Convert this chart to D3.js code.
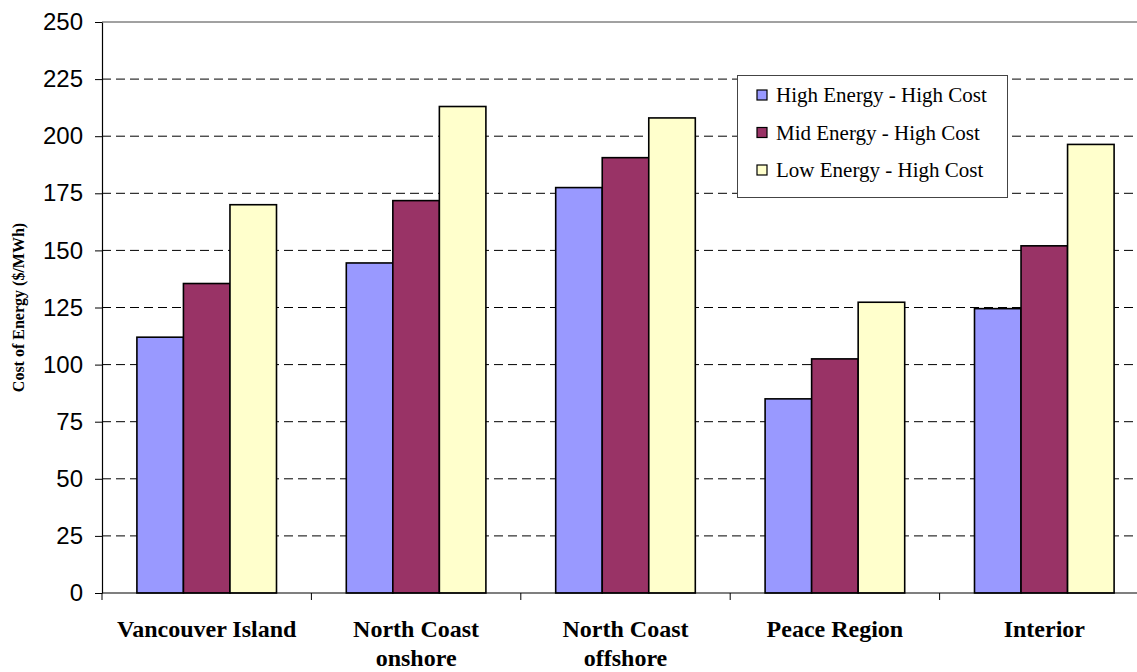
<!DOCTYPE html>
<html><head><meta charset="utf-8">
<script src="https://cdn.jsdelivr.net/npm/d3@7"></script>
<style>html,body{margin:0;padding:0;background:#fff;overflow:hidden}</style>
</head><body>
<script>
const categories = [["Vancouver Island"],["North Coast","onshore"],["North Coast","offshore"],["Peace Region"],["Interior"]];
const seriesNames = ["High Energy - High Cost","Mid Energy - High Cost","Low Energy - High Cost"];
const highEnergy = [112, 144.5, 177.5, 85, 124.5];
const midEnergy = [135.5, 171.8, 190.6, 102.5, 152];
const lowEnergy = [170, 213, 208, 127.3, 196.4];
const yTicks = [0,25,50,75,100,125,150,175,200,225,250];
const colors = ["#9999FF","#993366","#FFFFCC"];

(function(){
const W = 1137, H = 672;
const svg = d3.select("body").append("svg").attr("width", W).attr("height", H);
const pLeft = 102, pRight = 1149, pTop = 22, pBottom = 593;
const catKeys = d3.range(categories.length);
const x0 = d3.scaleBand().domain(catKeys).range([pLeft, pRight]).padding(0);
const bw = x0.bandwidth();
const gap = bw * 150 / 450;
const x1 = d3.scaleBand().domain(d3.range(3)).range([gap/2, bw - gap/2]).padding(0);
const y = d3.scaleLinear().domain([0,250]).range([pBottom, pTop]);

const series = [highEnergy, midEnergy, lowEnergy];

// gridlines
svg.append("g").selectAll("line").data(yTicks.filter(t => t > 0 && t < 250)).join("line")
  .attr("x1", pLeft).attr("x2", W).attr("y1", d => y(d)).attr("y2", d => y(d))
  .attr("stroke", "#000").attr("stroke-width", 1).attr("stroke-dasharray", "9,5");
svg.append("line").attr("x1", pLeft).attr("x2", W).attr("y1", y(250)).attr("y2", y(250))
  .attr("stroke", "#444").attr("stroke-width", 1);

// bars
const groups = svg.append("g").selectAll("g").data(catKeys).join("g")
  .attr("transform", i => `translate(${x0(i)},0)`);
groups.selectAll("rect").data(i => series.map((s, k) => ({k, v: s[i]}))).join("rect")
  .attr("x", d => x1(d.k)).attr("width", x1.bandwidth())
  .attr("y", d => y(d.v)).attr("height", d => y(0) - y(d.v))
  .attr("fill", d => colors[d.k]).attr("stroke", "#000").attr("stroke-width", 1.6);

// y axis
const yAxis = d3.axisLeft(y).tickValues(yTicks).tickSize(7).tickPadding(12).tickSizeOuter(0);
const ya = svg.append("g").attr("transform", `translate(${pLeft},0)`).call(yAxis);
ya.select(".domain").attr("stroke", "#000").attr("stroke-width", 1.2);
ya.selectAll(".tick line").attr("stroke", "#000");
ya.selectAll("text").attr("font-family", "Liberation Sans, Arial, sans-serif").attr("font-size", 24).attr("fill", "#000");

// x axis
const xa = svg.append("g").attr("transform", `translate(0,${pBottom})`);
xa.append("line").attr("x1", pLeft).attr("x2", W).attr("y1", 0).attr("y2", 0).attr("stroke", "#000").attr("stroke-width", 1.2);
xa.selectAll("line.t").data(catKeys).join("line").attr("class","t")
  .attr("x1", i => x0(i)).attr("x2", i => x0(i)).attr("y1", 0).attr("y2", 7).attr("stroke", "#000");
const lbl = xa.selectAll("text").data(catKeys).join("text")
  .attr("x", i => x0(i) + bw/2).attr("y", 44)
  .attr("text-anchor", "middle").attr("font-family", "Liberation Serif, Times New Roman, serif")
  .attr("font-weight", "bold").attr("font-size", 24).attr("fill", "#000");
lbl.selectAll("tspan").data(i => categories[i]).join("tspan")
  .attr("x", function(){ return d3.select(this.parentNode).attr("x"); })
  .attr("dy", (d, j) => j === 0 ? 0 : 29).text(d => d);

// y title
svg.append("text").attr("transform", `translate(24,${(pTop+pBottom)/2}) rotate(-90)`)
  .attr("text-anchor", "middle").attr("font-family", "Liberation Serif, Times New Roman, serif")
  .attr("font-weight", "bold").attr("font-size", 16).text("Cost of Energy ($/MWh)");

// legend
const lg = svg.append("g").attr("transform", "translate(737,75)");
lg.append("rect").attr("x", 0.5).attr("y", 0.5).attr("width", 270).attr("height", 122)
  .attr("fill", "#fff").attr("stroke", "#444").attr("stroke-width", 1);
const items = lg.selectAll("g").data(seriesNames).join("g")
  .attr("transform", (d, i) => `translate(0,${20 + i*37.5})`);
items.append("rect").attr("x", 20).attr("y", -5).attr("width", 10).attr("height", 10)
  .attr("fill", (d, i) => colors[i]).attr("stroke", "#000").attr("stroke-width", 1.2);
items.append("text").attr("x", 39).attr("y", 7).attr("font-family", "Liberation Serif, Times New Roman, serif")
  .attr("font-size", 21).attr("fill", "#000").text(d => d);
})();
</script>
</body></html>
